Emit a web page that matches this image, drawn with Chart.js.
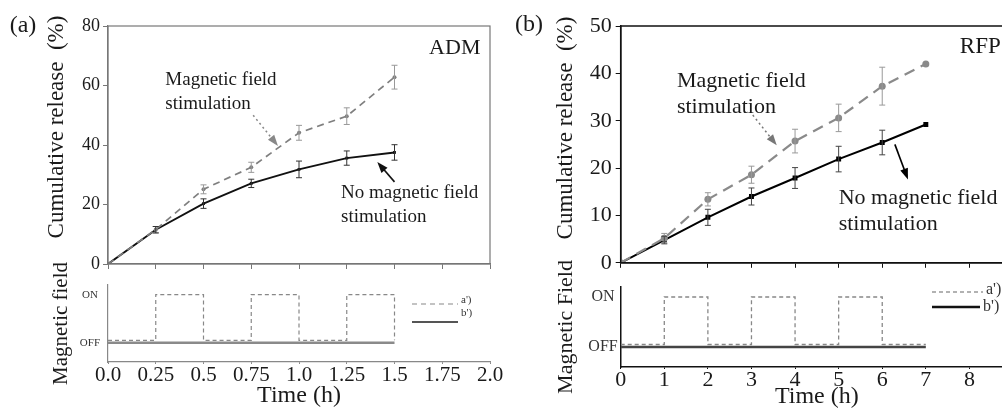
<!DOCTYPE html>
<html>
<head>
<meta charset="utf-8">
<title>Cumulative release with and without magnetic field stimulation</title>
<script src="https://cdn.jsdelivr.net/npm/chart.js@4.4.1/dist/chart.umd.min.js"></script>
<style>
  html, body { margin: 0; padding: 0; background: #fff; }
  #stage { position: relative; width: 1002px; height: 411px; overflow: hidden; }
  .box { position: absolute; }
</style>
</head>
<body>
<div id="stage">
  <div class="box" style="left:0;top:0;width:500px;height:280px"><canvas id="aTop"></canvas></div>
  <div class="box" style="left:0;top:255px;width:510px;height:156px"><canvas id="aBot"></canvas></div>
  <div class="box" style="left:500px;top:0;width:540px;height:280px"><canvas id="bTop"></canvas></div>
  <div class="box" style="left:500px;top:257px;width:540px;height:154px"><canvas id="bBot"></canvas></div>
</div>
<script>
// ---- data ----
// (a) ADM
const timeA = [0, 0.25, 0.5, 0.75, 1.0, 1.25, 1.5];
const admField = [0, 11.6, 25.1, 32.5, 44.1, 49.7, 62.8];
const admFieldErr = [0, 1.0, 1.5, 1.7, 2.5, 2.8, 4.0];
const admNoField = [0, 11.5, 20.3, 27.1, 31.8, 35.6, 37.5];
const admNoFieldErr = [0, 1.1, 1.6, 1.4, 2.8, 2.4, 2.6];
const xLabelsA = ['0.0', '0.25', '0.5', '0.75', '1.0', '1.25', '1.5', '1.75', '2.0'];
const yLabelsA = ['0', '20', '40', '60', '80'];

// (b) RFP
const timeB = [0, 1, 2, 3, 4, 5, 6, 7];
const rfpField = [0, 5.2, 13.4, 18.6, 25.7, 30.6, 37.3, 42.0];
const rfpFieldErr = [0, 1.0, 1.4, 1.8, 2.5, 2.9, 4.0, 0];
const rfpNoField = [0, 4.8, 9.6, 14.0, 17.9, 21.9, 25.4, 29.2];
const rfpNoFieldErr = [0, 0.8, 1.7, 1.8, 2.2, 2.7, 2.6, 0];
const xLabelsB = ['0', '1', '2', '3', '4', '5', '6', '7', '8', '9'];
const yLabelsB = ['0', '10', '20', '30', '40', '50'];

// magnetic field switching, 1 = ON, 0 = OFF
const stateLabels = ['OFF', 'ON'];
const switchA = [0, 0.25, 0.5, 0.75, 1.0, 1.25, 1.5];
const fieldA = [0.05, 1, 0.05, 1, 0.05, 1, 0.05];     // a')
const plainTimesA = [0, 1.5];
const plainA = [0, 0];                                // b')
const switchB = [0, 1, 2, 3, 4, 5, 6, 7];
const fieldB = [0.05, 1, 0.05, 1, 0.05, 1, 0.05, 0.05];
const plainTimesB = [0, 7];
const plainB = [0, 0];

const SERIF = '"Liberation Serif", "Times New Roman", serif';
const pts = (xs, ys) => xs.map((x, i) => ({ x: x, y: ys[i] }));

// error bars drawn through the y scale
const errorBars = {
  id: 'errorBars',
  afterDatasetsDraw(chart) {
    const ctx = chart.ctx;
    const y = chart.scales.y;
    chart.data.datasets.forEach((ds, i) => {
      if (!ds.errors) return;
      const meta = chart.getDatasetMeta(i);
      ctx.save();
      ctx.strokeStyle = ds.errorColor;
      ctx.lineWidth = 1;
      meta.data.forEach((pt, j) => {
        const e = ds.errors[j];
        if (!e) return;
        const v = ds.data[j].y;
        const t = y.getPixelForValue(v + e), b = y.getPixelForValue(v - e);
        ctx.beginPath();
        ctx.moveTo(pt.x, t); ctx.lineTo(pt.x, b);
        ctx.moveTo(pt.x - 3, t); ctx.lineTo(pt.x + 3, t);
        ctx.moveTo(pt.x - 3, b); ctx.lineTo(pt.x + 3, b);
        ctx.stroke();
      });
      ctx.restore();
    });
  }
};

// frame, labels, arrows and the small a')/b') key
const notes = {
  id: 'notes',
  afterDraw(chart, args, opts) {
    const { ctx, chartArea: ca } = chart;
    const sx = chart.scales.x, sy = chart.scales.y;
    ctx.save();
    if (opts.frame) {
      ctx.strokeStyle = opts.frame;
      ctx.lineWidth = opts.frameWidth || 1;
      ctx.strokeRect(ca.left, ca.top, ca.right - ca.left, ca.bottom - ca.top);
    }
    (opts.texts || []).forEach(t => {
      const px = t.px ? t.px[0] : sx.getPixelForValue(t.x);
      const py = t.px ? t.px[1] : sy.getPixelForValue(t.y);
      ctx.save();
      ctx.font = t.size + 'px ' + SERIF;
      ctx.fillStyle = t.color || '#1a1a1a';
      ctx.textAlign = t.align || 'left';
      ctx.textBaseline = 'middle';
      ctx.translate(px, py);
      if (t.rot) ctx.rotate(t.rot * Math.PI / 180);
      ctx.fillText(t.text, 0, 0);
      ctx.restore();
    });
    (opts.arrows || []).forEach(a => {
      const x1 = sx.getPixelForValue(a.from[0]), y1 = sy.getPixelForValue(a.from[1]);
      const x2 = sx.getPixelForValue(a.to[0]), y2 = sy.getPixelForValue(a.to[1]);
      const ang = Math.atan2(y2 - y1, x2 - x1);
      ctx.strokeStyle = a.color; ctx.fillStyle = a.color;
      ctx.lineWidth = a.width || 1.5;
      ctx.setLineDash(a.dash || []);
      ctx.beginPath();
      ctx.moveTo(x1, y1);
      ctx.lineTo(x2 - 6 * Math.cos(ang), y2 - 6 * Math.sin(ang));
      ctx.stroke();
      ctx.setLineDash([]);
      ctx.beginPath();
      ctx.moveTo(x2, y2);
      ctx.lineTo(x2 - 11 * Math.cos(ang) + 4 * Math.sin(ang), y2 - 11 * Math.sin(ang) - 4 * Math.cos(ang));
      ctx.lineTo(x2 - 11 * Math.cos(ang) - 4 * Math.sin(ang), y2 - 11 * Math.sin(ang) + 4 * Math.cos(ang));
      ctx.closePath();
      ctx.fill();
    });
    (opts.key || []).forEach(k => {
      ctx.strokeStyle = k.color;
      ctx.lineWidth = k.width;
      ctx.setLineDash(k.dash || []);
      ctx.beginPath();
      ctx.moveTo(k.x1, k.y); ctx.lineTo(k.x2, k.y);
      ctx.stroke();
      ctx.setLineDash([]);
      ctx.font = k.size + 'px ' + SERIF;
      ctx.fillStyle = '#333';
      ctx.textAlign = 'left';
      ctx.textBaseline = 'middle';
      ctx.fillText(k.label, k.x2 + 3, k.ty);
    });
    ctx.restore();
  }
};

Chart.register(errorBars, notes);
Chart.defaults.font.family = SERIF;
Chart.defaults.color = '#1a1a1a';
Chart.defaults.animation = false;
Chart.defaults.events = [];
Chart.defaults.plugins.legend.display = false;
Chart.defaults.plugins.tooltip.enabled = false;
Chart.defaults.maintainAspectRatio = false;

// ---------- (a) top: cumulative release of ADM ----------
new Chart(document.getElementById('aTop'), {
  type: 'line',
  data: {
    datasets: [
      { data: pts(timeA, admField), errors: admFieldErr, errorColor: '#999',
        borderColor: '#7f7f7f', borderWidth: 1.7, borderDash: [7, 5],
        pointRadius: 2, pointBackgroundColor: '#7f7f7f', pointBorderWidth: 0 },
      { data: pts(timeA, admNoField), errors: admNoFieldErr, errorColor: '#333',
        borderColor: '#111', borderWidth: 1.9, pointStyle: 'rect',
        pointRadius: 2, pointBackgroundColor: '#111', pointBorderWidth: 0 }
    ]
  },
  options: {
    layout: { padding: { top: 26, right: 10, bottom: 10, left: 0 } },
    scales: {
      x: { type: 'linear', min: 0, max: 2,
        ticks: { display: false, stepSize: 0.25 },
        grid: { drawOnChartArea: false, tickLength: 5, color: '#777' },
        border: { color: '#777', width: 1.2 },
        afterFit: s => { s.height = 6; } },
      y: { min: 0, max: 80,
        ticks: { stepSize: 20, padding: 3, font: { size: 18 }, callback: (v, i) => yLabelsA[i] },
        grid: { drawOnChartArea: false, tickLength: 5, color: '#777' },
        border: { color: '#777', width: 1.2 },
        afterFit: s => { s.width = 108; } }
    },
    plugins: {
      notes: {
        frame: '#777', frameWidth: 1.2,
        texts: [
          { text: '(a)', px: [23, 26], size: 24, align: 'center' },
          { text: 'Cumulative release  (%)', px: [57, 127], size: 23, align: 'center', rot: -90 },
          { text: 'ADM', x: 1.95, y: 72.6, size: 22, align: 'right' },
          { text: 'Magnetic field', x: 0.30, y: 61.8, size: 19 },
          { text: 'stimulation', x: 0.30, y: 53.8, size: 19 },
          { text: 'No magnetic field', x: 1.22, y: 23.9, size: 19 },
          { text: 'stimulation', x: 1.22, y: 15.8, size: 19 }
        ],
        arrows: [
          { from: [0.76, 50], to: [0.89, 39.7], color: '#888', dash: [2, 3], width: 1.5 },
          { from: [1.50, 27.6], to: [1.41, 34.3], color: '#111', width: 1.6 }
        ]
      }
    }
  }
});

// ---------- (a) bottom: field on/off ----------
new Chart(document.getElementById('aBot'), {
  type: 'line',
  data: {
    datasets: [
      { data: pts(switchA, fieldA), stepped: true, borderColor: '#888', borderWidth: 1.2,
        borderDash: [4, 3], pointRadius: 0 },
      { data: pts(plainTimesA, plainA), borderColor: '#8a8a8a', borderWidth: 2.5, pointRadius: 0 }
    ]
  },
  options: {
    layout: { padding: { top: 30, right: 20, bottom: 0, left: 0 } },
    scales: {
      x: { type: 'linear', min: 0, max: 2,
        ticks: { stepSize: 0.25, padding: -1, autoSkip: false, maxRotation: 0, minRotation: 0,
          font: { size: 21 }, callback: (v, i) => xLabelsA[i] },
        grid: { drawOnChartArea: false, tickLength: 2, color: '#888' },
        border: { color: '#888', width: 1.2 },
        title: { display: true, text: 'Time (h)', font: { size: 24 }, padding: { top: 0, bottom: 1 } },
        afterFit: s => { s.height = 49; } },
      y: { min: -0.4, max: 1.2,
        afterBuildTicks: s => { s.ticks = [{ value: 0 }, { value: 1 }]; },
        ticks: { padding: 8, crossAlign: 'center', font: { size: 11 }, color: '#333',
          callback: (v, i) => stateLabels[i] },
        grid: { display: false, tickLength: 0 },
        border: { color: '#888', width: 1.2 },
        title: { display: true, text: 'Magnetic field', font: { size: 21 }, padding: { top: 49, bottom: 0 } },
        afterFit: s => { s.width = 108; } }
    },
    plugins: {
      notes: {
        key: [
          { label: "a')", x1: 412, x2: 458, y: 49, ty: 45, size: 11, color: '#888', width: 1.2, dash: [5, 4] },
          { label: "b')", x1: 412, x2: 458, y: 67, ty: 58, size: 11, color: '#555', width: 1.8 }
        ]
      }
    }
  }
});

// ---------- (b) top: cumulative release of RFP ----------
new Chart(document.getElementById('bTop'), {
  type: 'line',
  data: {
    datasets: [
      { data: pts(timeB, rfpField), errors: rfpFieldErr, errorColor: '#999',
        borderColor: '#8a8a8a', borderWidth: 2.2, borderDash: [11, 7],
        pointRadius: 3.5, pointBackgroundColor: '#8a8a8a', pointBorderWidth: 0 },
      { data: pts(timeB, rfpNoField), errors: rfpNoFieldErr, errorColor: '#444',
        borderColor: '#000', borderWidth: 2, pointStyle: 'rect',
        pointRadius: 3.5, pointBackgroundColor: '#000', pointBorderWidth: 0 }
    ]
  },
  options: {
    layout: { padding: { top: 26, right: 27, bottom: 6, left: 0 } },
    scales: {
      x: { type: 'linear', min: 0, max: 9,
        ticks: { display: false, stepSize: 1 },
        grid: { drawOnChartArea: false, tickLength: 5, color: '#111' },
        border: { color: '#111', width: 1.5 },
        afterFit: s => { s.height = 6; } },
      y: { min: 0, max: 50,
        ticks: { stepSize: 10, padding: 4, font: { size: 22 }, callback: (v, i) => yLabelsB[i] },
        grid: { drawOnChartArea: false, tickLength: 5, color: '#111' },
        border: { color: '#111', width: 1.5 },
        afterFit: s => { s.width = 120.7; } }
    },
    plugins: {
      notes: {
        frame: '#111', frameWidth: 1.5,
        texts: [
          { text: '(b)', px: [29, 25], size: 24, align: 'center' },
          { text: 'Cumulative release  (%)', px: [66, 128], size: 23, align: 'center', rot: -90 },
          { text: 'RFP', x: 7.78, y: 45.5, size: 23 },
          { text: 'Magnetic field', x: 1.29, y: 38.4, size: 22 },
          { text: 'stimulation', x: 1.29, y: 32.9, size: 22 },
          { text: 'No magnetic field', x: 5.0, y: 13.6, size: 22 },
          { text: 'stimulation', x: 5.0, y: 8.1, size: 22 }
        ],
        arrows: [
          { from: [3.03, 31.2], to: [3.58, 24.8], color: '#777', dash: [2, 3], width: 1.5 },
          { from: [6.29, 25.0], to: [6.59, 17.6], color: '#000', width: 1.6 }
        ]
      }
    }
  }
});

// ---------- (b) bottom: field on/off ----------
new Chart(document.getElementById('bBot'), {
  type: 'line',
  data: {
    datasets: [
      { data: pts(switchB, fieldB), stepped: true, borderColor: '#888', borderWidth: 1.3,
        borderDash: [4, 3], pointRadius: 0 },
      { data: pts(plainTimesB, plainB), borderColor: '#444', borderWidth: 2.5, pointRadius: 0 }
    ]
  },
  options: {
    layout: { padding: { top: 30, right: 27, bottom: 0, left: 0 } },
    scales: {
      x: { type: 'linear', min: 0, max: 9,
        ticks: { stepSize: 1, padding: -2, autoSkip: false, maxRotation: 0, minRotation: 0,
          font: { size: 22 }, callback: (v, i) => xLabelsB[i] },
        grid: { drawOnChartArea: false, tickLength: 2, color: '#111' },
        border: { color: '#111', width: 1.5 },
        title: { display: true, text: 'Time (h)', font: { size: 24 }, padding: { top: 0, bottom: 0 } },
        afterFit: s => { s.height = 44; } },
      y: { min: -0.4, max: 1.2,
        afterBuildTicks: s => { s.ticks = [{ value: 0 }, { value: 1 }]; },
        ticks: { padding: 3, crossAlign: 'center', font: { size: 16 }, color: '#333',
          callback: (v, i) => stateLabels[i] },
        grid: { display: false, tickLength: 0 },
        border: { color: '#111', width: 1.5 },
        title: { display: true, text: 'Magnetic Field', font: { size: 22 }, padding: { top: 53, bottom: 0 } },
        afterFit: s => { s.width = 120.7; } }
    },
    plugins: {
      notes: {
        key: [
          { label: "a')", x1: 432, x2: 483, y: 35, ty: 33, size: 16, color: '#999', width: 1.3, dash: [4, 3] },
          { label: "b')", x1: 432, x2: 480, y: 50, ty: 50, size: 16, color: '#111', width: 2.5 }
        ]
      }
    }
  }
});
</script>
</body>
</html>
